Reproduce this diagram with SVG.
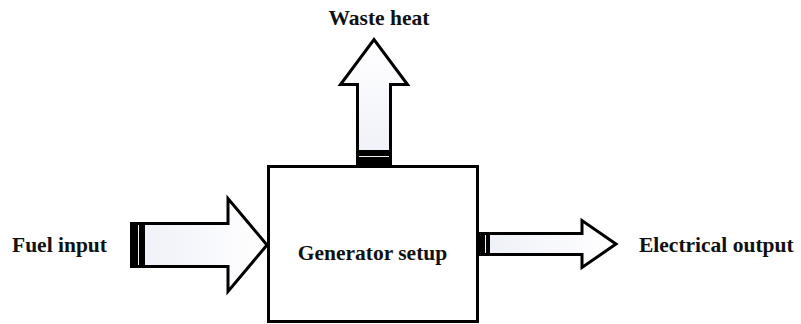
<svg xmlns="http://www.w3.org/2000/svg" width="801" height="324" viewBox="0 0 801 324">
<defs>
<linearGradient id="gh" x1="0" y1="0" x2="1" y2="0">
<stop offset="0" stop-color="#eef0f8"/><stop offset="1" stop-color="#ffffff"/>
</linearGradient>
<linearGradient id="gv" x1="0" y1="1" x2="0" y2="0">
<stop offset="0" stop-color="#eef0f8"/><stop offset="1" stop-color="#ffffff"/>
</linearGradient>
<style>
.arr{stroke:#000;stroke-width:3;stroke-linejoin:miter}
.box{fill:#fff;stroke:#000;stroke-width:3}
.lbl{font-family:"Liberation Serif","Times New Roman",serif;font-weight:bold;font-size:21.5px;fill:#111}
</style>
</defs>
<g id="connectors">
<g id="fuel-arrow">
<polygon class="arr" fill="url(#gh)" points="131.5,223.5 228,223.5 228,198.5 267,245 228,291.5 228,266.5 131.5,266.5"/>
<rect x="130" y="222" width="8" height="46" fill="#000"/>
<rect x="139" y="222" width="6" height="46" fill="#000"/>
</g>
<g id="waste-arrow">
<polygon class="arr" fill="url(#gv)" points="357.5,165 357.5,84.5 340.5,84.5 374,39.5 407.5,84.5 390.5,84.5 390.5,165"/>
<rect x="356" y="150" width="36" height="6" fill="#000"/>
<rect x="356" y="157" width="36" height="8" fill="#000"/>
</g>
<g id="elec-arrow">
<polygon class="arr" fill="url(#gh)" points="480,233.5 582,233.5 582,220.5 616,244 582,267.5 582,254.5 480,254.5"/>
<rect x="479" y="232" width="6" height="24" fill="#000"/>
<rect x="486" y="232" width="4" height="24" fill="#000"/>
</g>
</g>
<g id="generator">
<rect class="box" x="268.5" y="166.5" width="209" height="155"/>
<text class="lbl" x="372.5" y="260" text-anchor="middle">Generator setup</text>
</g>
<g id="fuel">
<text class="lbl" x="12" y="252">Fuel input</text>
</g>
<g id="waste">
<text class="lbl" x="379" y="25" text-anchor="middle">Waste heat</text>
</g>
<g id="electrical">
<text class="lbl" x="639" y="252">Electrical output</text>
</g>
</svg>
